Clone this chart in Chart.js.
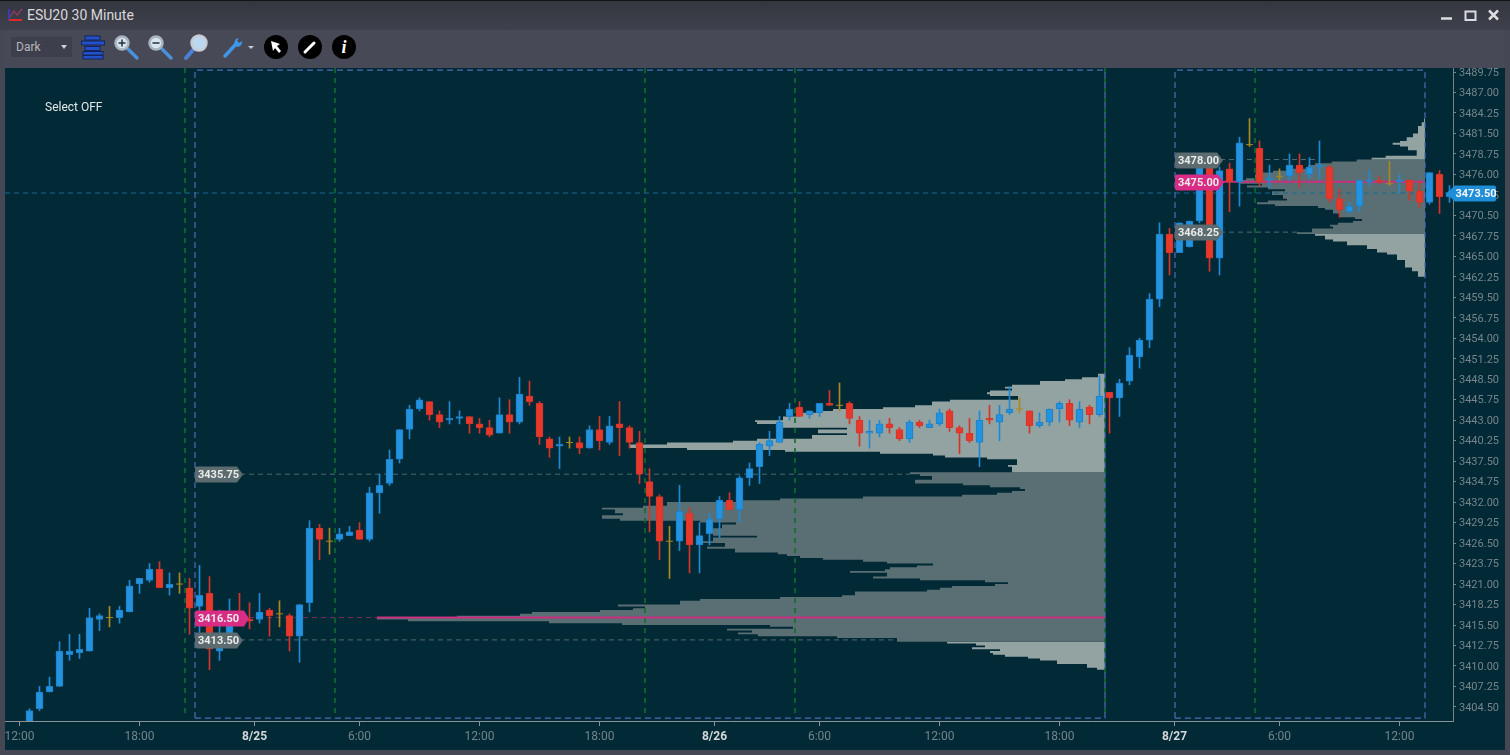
<!DOCTYPE html>
<html>
<head>
<meta charset="utf-8">
<title>ESU20 30 Minute</title>
<script src="https://cdn.jsdelivr.net/npm/chart.js@4/dist/chart.umd.min.js"></script>
<style>
  html, body { margin: 0; padding: 0; width: 1510px; height: 755px; overflow: hidden; background: #454755; font-family: Roboto, sans-serif; }
  #titlebar { position: absolute; left: 0; top: 0; width: 1510px; height: 30px; background: linear-gradient(#35373f, #3e404c); border-top: 1px solid #14151a; box-sizing: border-box; }
  #title { position: absolute; left: 27px; top: 6px; font-size: 14px; color: #d8d8dc; }
  #toolbar { position: absolute; left: 5px; top: 30px; width: 1500px; height: 38px; background: #474956; }
  #theme { position: absolute; left: 6px; top: 7px; width: 61px; height: 20px; background: #3d3f4c; color: #b4b6bb; font-size: 12px; line-height: 20px; text-indent: 5px; }
  #theme:after { content: ""; position: absolute; right: 5px; top: 8px; border: 3px solid transparent; border-top: 4px solid #d0d0d4; }
  #plot { position: absolute; left: 5px; top: 68px; width: 1500px; height: 682px; background: #012936; }
  #select { position: absolute; left: 45px; top: 100px; font-size: 12px; color: #e6e8e8; }
  svg { position: absolute; left: 0; top: 0; }
</style>
</head>
<body>
<div id="titlebar"><div id="title">ESU20 30 Minute</div></div>
<div id="toolbar"><div id="theme">Dark</div></div>
<canvas id="plot" width="1500" height="682"></canvas>
<div id="select">Select OFF</div>
<svg width="1510" height="68">
  <path d="M9 9v11h12" fill="none" stroke="#3a3fd0" stroke-width="1.5"/>
  <path d="M9 20h13" stroke="#e02828" stroke-width="2"/>
  <path d="M10 17l4-6 3 4 5-6" fill="none" stroke="#9a3a6a" stroke-width="1.2"/>
  <g fill="#2450c8" stroke="#10245e">
    <rect x="85" y="36" width="15" height="4"/><rect x="81.5" y="41" width="23" height="4"/>
    <rect x="85" y="46.5" width="15" height="4"/><rect x="83" y="51.5" width="20" height="3.5"/><rect x="83" y="55.5" width="20" height="3.5"/>
  </g>
  <g stroke-linecap="round">
    <path d="M128 49l9 9" stroke="#4a90d8" stroke-width="3.5"/>
    <circle cx="122" cy="43" r="6.5" fill="#d8e4f0" stroke="#a8b4c0" stroke-width="2.5"/>
    <path d="M119 43h6M122 40v6" stroke="#23303e" stroke-width="1.5"/>
    <path d="M162 49l9 9" stroke="#4a90d8" stroke-width="3.5"/>
    <circle cx="156" cy="43" r="6.5" fill="#d8e4f0" stroke="#a8b4c0" stroke-width="2.5"/>
    <path d="M153 43h6" stroke="#23303e" stroke-width="1.5"/>
    <path d="M186 58l7-8" stroke="#4a80d8" stroke-width="4"/>
    <circle cx="199" cy="43" r="7.5" fill="#bcd8f0" stroke="#c8ccd2" stroke-width="2.5"/>
    <path d="M225 56l12-13" stroke="#3f96e6" stroke-width="3.5"/>
    <path d="M236 39a5 5 0 0 0 1 8a5 5 0 0 0 5-6l-3 2l-2-2l2-3z" fill="#3f96e6"/>
  </g>
  <path d="M248 46h6l-3 3z" fill="#c8ccd2"/>
  <circle cx="276" cy="47" r="12" fill="#000"/>
  <path d="M271 41l9 3-3 2 4 5-2 2-4-5-2 3z" fill="#fff"/>
  <circle cx="310" cy="47" r="12" fill="#000"/>
  <path d="M305 52l9-9" stroke="#fff" stroke-width="3" stroke-linecap="round"/>
  <circle cx="344" cy="47" r="12" fill="#000"/>
  <text x="344" y="53" text-anchor="middle" font-family="Liberation Serif" font-style="italic" font-weight="bold" font-size="18" fill="#fff">i</text>
  <path d="M1441 18.5h11" stroke="#dcdce0" stroke-width="2.5"/>
  <rect x="1465.5" y="11.5" width="10" height="8.5" fill="none" stroke="#dcdce0" stroke-width="2"/>
  <path d="M1489 10.5l9 9M1498 10.5l-9 9" stroke="#dcdce0" stroke-width="2.5"/>
</svg>
<script>
// 30 minute bars, first one sits just past the 12:00 tick
const firstBar = 1;
const candleOpen = [
  3402.25,3404.25,3406.5,3407.25,3411.5,3411.75,3412,3416.25,3416.5,3416.5,
  3417.25,3421,3421.5,3423,3420.5,3421,3420.5,3418,3419.75,3412,
  3413.75,3417.25,3416.25,3416.25,3417.5,3417,3416.75,3414,3418.5,3428.5,
  3426.75,3427,3427.5,3428.25,3427,3433.25,3434.5,3437.75,3441.75,3444.5,
  3445.5,3443.75,3443,3443.25,3443.5,3442.5,3442,3441.25,3443.75,3442.75,
  3446.25,3445.25,3440.5,3439.5,3440,3440,3439.25,3441.75,3440,3442.5,
  3442,3440,3434.75,3432.75,3426.75,3426.75,3430.5,3426.25,3427.75,3429.75,
  3432.25,3431,3435.25,3436.75,3439.5,3440,3443.5,3444.75,3443.75,3444,
  3445.25,3445,3445.25,3443,3441.25,3441.25,3442.5,3441.75,3440.5,3442.75,
  3442,3442.5,3444.25,3442,3441.25,3440,3443.25,3442.75,3444,3444.5,
  3444.25,3442.25,3442.75,3444.5,3445.25,3442.75,3444.75,3443.75,3446.75,3446,
  3448.25,3451.5,3453.75,3459.25,3468,3465.5,3466.25,3469.75,3477,3464.75,
  3476.75,3475,3480,3479.5,3475.25,3475.75,3475.75,3477.25,3476,3477,
  3477,3472.75,3471,3471.75,3475,3475.25,3474.75,3475,3475.25,3473.75,
  3472.25,3476,3473
];
const candleHigh = [
  3404.25,3407.25,3408.5,3413.25,3414.25,3414.25,3417.75,3417,3418,3418,
  3421.5,3421.75,3423.75,3424,3422.5,3422.5,3421.75,3423.5,3422,3417.5,
  3419,3419.75,3418.5,3419.75,3417.75,3418.75,3417,3418.25,3429.5,3429,
  3428.5,3428.5,3428.75,3429.25,3434,3435.75,3439,3441.75,3445,3446,
  3445.5,3444.25,3445.5,3444.25,3443.5,3443.25,3443,3446,3445.75,3448.75,
  3448.25,3445.5,3440.75,3440.75,3440.75,3440.75,3442.25,3443.5,3443.5,3445.5,
  3442.25,3441.5,3436.5,3433,3428.75,3434.25,3431.25,3429.25,3430.5,3432.75,
  3433.25,3435.5,3437.25,3440,3441.5,3443.5,3445.25,3445.5,3444.25,3445.25,
  3447,3448,3445.5,3443.5,3443,3443,3443.25,3442,3443,3443,
  3443,3444.5,3444.5,3442.25,3443.25,3444.25,3445,3445,3447.5,3446,
  3444.25,3444,3444.5,3445.5,3445.75,3445.5,3445,3449,3446.75,3448.5,
  3452.75,3454,3460,3469.5,3468.75,3469.5,3469.75,3477.25,3478,3477,
  3477.5,3481,3483.5,3480.5,3477.25,3476.75,3478.75,3478.75,3478.25,3480.5,
  3477.25,3474,3472.25,3475.25,3476.5,3475.75,3477.75,3476,3475.25,3475,
  3476.25,3476.5,3474.5
];
const candleLow = [
  3402.25,3404,3406.5,3407.25,3410.75,3411,3412,3414.75,3415.25,3415.75,
  3417.25,3419.75,3421.25,3420.5,3419.5,3419.75,3414.25,3414.5,3409.5,3410.75,
  3413.5,3416,3415,3415.75,3414,3415.25,3412,3410.5,3417.25,3424.25,
  3425,3426.75,3427.5,3427,3426.75,3430.5,3434.25,3437.25,3440.5,3444.25,
  3443,3442,3442.5,3442.5,3441.25,3441.25,3440.75,3441.25,3441.25,3442.5,
  3445,3439.75,3438,3436.5,3439.25,3438.5,3439.25,3439,3439.75,3438.25,
  3439.25,3434.5,3428,3424.25,3421.75,3425.5,3422.5,3422.5,3426.25,3427.25,
  3431,3429.25,3434.25,3434.5,3438.25,3440,3443,3443.5,3443.25,3443.5,
  3445,3444.25,3442.5,3439.5,3439.25,3440.75,3441.25,3440.25,3440,3442,
  3442,3442.25,3441.5,3438.5,3440,3436.75,3442.5,3440.25,3443.75,3444,
  3441.25,3442,3442.25,3442.75,3442.25,3442,3442.5,3443.5,3441.25,3443.5,
  3447.75,3450,3452.75,3458.25,3462.5,3465.5,3466.25,3469.5,3463,3462.5,
  3471,3471.75,3479.75,3474.5,3474.25,3475.25,3475.25,3474.25,3475.5,3475.5,
  3472.25,3470.25,3470.75,3471,3474.5,3474.75,3474.5,3473.5,3472.5,3471.5,
  3472,3470.75,3472.25
];
const candleClose = [
  3404,3406.5,3407.25,3412,3412,3412.25,3416.5,3416.75,3416.5,3417.5,
  3420.75,3421.75,3423,3420.5,3421,3421,3417.75,3419.5,3412.25,3414,
  3417.25,3416.25,3416,3417.25,3416.75,3417,3414,3418.25,3428.5,3427,
  3426.75,3427.75,3428,3427,3433.25,3434.25,3437.75,3441.75,3444.5,3445.75,
  3443.75,3442.75,3443.25,3443.5,3442.5,3442,3441,3443.75,3442.75,3446.5,
  3445.5,3440.75,3439.25,3439.75,3440,3439.25,3441.75,3440.25,3442.25,3442,
  3440,3435.75,3432.75,3426.75,3426.75,3430.75,3426.25,3427.5,3429.75,3432.25,
  3431,3435.25,3436.5,3439.75,3440.25,3442.75,3444.5,3443.5,3444.25,3445.25,
  3445,3445,3443.25,3441.25,3441.5,3442.5,3442,3440.5,3442.75,3442.25,
  3442.5,3444,3442,3441.25,3440.25,3443,3443,3443.75,3444.5,3444.5,
  3442.25,3442.75,3444.5,3445.25,3443,3444.5,3443.75,3446.25,3446,3448,
  3451.75,3453.75,3459.25,3468,3465.5,3469.5,3469.75,3477.25,3464.75,3476.5,
  3475,3480.25,3480,3475,3475.5,3475.75,3477.25,3476.25,3477,3477.25,
  3472.75,3471.25,3471.75,3475.25,3475.25,3475,3474.75,3475.25,3473.75,3472.25,
  3476.25,3473,3473.5
];

// axis labels
const xTickValues = [0,12,23.5,34,46,58,69.5,80,92,104,115.5,126,138];
const xTickLabels = ['12:00','18:00','8/25','6:00','12:00','18:00','8/26','6:00','12:00','18:00','8/27','6:00','12:00'];
const yTickValues = [
  3489.75,3487,3484.25,3481.5,3478.75,3476,3473.25,3470.5,3467.75,3465,3462.25,
  3459.5,3456.75,3454,3451.25,3448.5,3445.75,3443,3440.25,3437.5,3434.75,3432,
  3429.25,3426.5,3423.75,3421,3418.25,3415.5,3412.75,3410,3407.25,3404.5
];

// session boxes and the pit open/close markers
const sessionStart = [17.55, 115.55];
const sessionEnd = [108.55, 140.55];
const dividers = [16.55, 31.55, 62.55, 77.55, 108.55, 123.55];

// profile levels per session: value area high, point of control, value area low
const vahLevels = [3435.75, 3478];
const pocLevels = [3416.5, 3475];
const valLevels = [3413.5, 3468.25];
const vahLineEnd = [89.05, 129.65];
const pocLineStart = [35.75, 120.35];
const valLineEnd = [87.75, 127.85];
const lastPrice = 3473.5;

// volume profile rows, price is the top of each row and the last price closes the shape
const p1UpperPrice = [3449.25,3448.75,3448.5,3448.25,3447.75,3447.5,3447.25,3447,3446.75,3446.5,3446.25,3445.75,3445.5,3445,3444.75,3444.5,3444.25,3444,3443.5,3443,3442.75,3442.5,3442,3441.75,3441.25,3441,3440.5,3440.25,3440,3439.75,3439.25,3439,3438.75,3438.5,3438.25,3438,3437.75,3437,3436.75,3436];
const p1UpperVol = [0.7,2.3,4,6.5,9.3,10,9.3,11.5,11.8,11.5,8.7,15.5,17.3,19,22.2,27.2,28.2,30.8,32.2,35,34.8,32.2,25.8,28.7,25.8,29.3,34.8,37.2,43.8,47.5,41.8,32,22.5,17.2,16,11.8,8.8,9.7,9.3];
const p1ValuePrice = [3436,3435.75,3435.5,3435,3434.5,3434.25,3434,3433.75,3433.5,3433.25,3433,3432.75,3432.5,3432.25,3432,3431.5,3431.25,3431,3430.5,3430.25,3429.75,3429.5,3429.25,3429,3428.5,3428,3427.5,3427.25,3426.75,3426.5,3426,3425.75,3425.25,3425,3424.75,3424.5,3424.25,3424,3423.75,3423.5,3423.25,3423,3422.75,3422.5,3422,3421.75,3421.5,3421.25,3421,3420.75,3420.5,3420.25,3420,3419.5,3419.25,3419,3418.75,3418.25,3418,3417.75,3417.5,3417.25,3417,3416.75,3416.5,3416.25,3416,3415.75,3415.5,3415.25,3415,3414.75,3414.5,3414.25,3414,3413.75,3413.25];
const p1ValueVol = [19.5,18.5,17.3,19,14.2,11.5,8.5,8,9.3,10.8,14.3,24.2,32.5,36.2,43.8,46.2,50.3,49,48.2,50.3,48.5,40.5,36.9,38.3,39.3,39.2,34.8,39.2,40.2,38,39.8,37,32.7,31.8,30.5,28.2,24.2,21.8,17.2,18.8,21.5,22,25.5,21.8,23.2,18.5,12,9.7,11,15.3,16.5,17.8,25,26.3,32.5,40.5,42.5,48.7,46,47.2,50.5,57.3,58.5,64.8,72.8,69.7,55.6,48.3,33.5,31.2,37.8,35.3,36.7,34.7,26.8,20.8];
const p1LowerPrice = [3413.25,3413,3412.75,3412.5,3412.25,3412,3411.75,3411.5,3411.25,3411,3410.75,3410.25,3409.75,3409.5];
const p1LowerVol = [15.8,12.9,12,13.3,10.5,11.5,11.2,10,7.7,6.5,4.8,1.8,0.8];

const p2UpperPrice = [3483.5,3483,3482.5,3481.5,3481,3480.5,3480.25,3480,3479.75,3479.25,3478.5,3478.25,3478];
const p2UpperVol = [0.1,0.33,0.7,1.2,1.83,2.5,3.23,2.5,1.7,0.83,3.93,5.33];
const p2ValuePrice = [3478,3477.75,3477.5,3477.25,3476.75,3476.5,3476.25,3476,3475.5,3475.25,3474.75,3474.5,3474.25,3474,3473.75,3473.25,3472.75,3472.5,3472.25,3472,3471.75,3471.5,3471.25,3470.75,3470.25,3470,3469.75,3469.5,3469.25,3469,3468.75,3468.25,3468];
const p2ValueVol = [6.83,9.33,11,11.7,13.7,15.2,16.5,17,17.9,18.5,16.3,17.8,15.7,14,15.3,14.2,13.8,15.7,16.8,15,10.7,10,9.2,8.5,7,6.3,7.2,8.7,9.5,9.2,11.3,12.8];
const p2LowerPrice = [3468,3467.75,3467.25,3467,3466.5,3466,3465.5,3465.25,3464.5,3463.5,3463,3462.25];
const p2LowerVol = [11,10,9.2,7.8,5.8,4.8,3.8,2.8,2,1.3,0.7];

const BLUE = '#2393e0', RED = '#e7392b', GOLD = '#a98a1f';
const LIGHT = '#93a3a1', DARK = '#5a6f74';
const PINK = '#d92c85', TAG_GRAY = '#5b6b6f';

const barX = i => firstBar + i;

// closed stepped outline of a profile, hanging left from the session end
function profileShape(prices, vols, anchor) {
  const pts = [{ x: anchor, y: prices[0] }];
  vols.forEach((v, i) => {
    pts.push({ x: anchor - v, y: prices[i] });
    pts.push({ x: anchor - v, y: prices[i + 1] });
  });
  pts.push({ x: anchor, y: prices[prices.length - 1] });
  return pts;
}

function shapeSet(prices, vols, anchor, color) {
  return { type: 'line', data: profileShape(prices, vols, anchor), backgroundColor: color, borderWidth: 0, pointRadius: 0, fill: 'shape', tension: 0, order: 8 };
}

function lineSet(points, color, width, dash, order) {
  return { type: 'line', data: points, borderColor: color, borderWidth: width, borderDash: dash, pointRadius: 0, fill: false, tension: 0, order: order };
}

function wickSet(color, test) {
  const data = [];
  candleOpen.forEach((o, i) => { if (test(o, candleClose[i])) data.push({ x: barX(i), y: [candleLow[i], candleHigh[i]] }); });
  return { type: 'bar', data, backgroundColor: color, barThickness: 1, grouped: false, order: 3 };
}

function bodySet(color, edge, test) {
  const data = [];
  candleOpen.forEach((o, i) => { if (test(o, candleClose[i])) data.push({ x: barX(i), y: [o, candleClose[i]] }); });
  return { type: 'bar', data, backgroundColor: color, borderColor: edge, borderWidth: 1, borderSkipped: false, borderRadius: 1, barThickness: 7, grouped: false, order: 2 };
}

const up = (o, c) => c > o, down = (o, c) => c < o, flat = (o, c) => c === o;

const datasets = [
  shapeSet(p1UpperPrice, p1UpperVol, sessionEnd[0], LIGHT),
  shapeSet(p1ValuePrice, p1ValueVol, sessionEnd[0], DARK),
  shapeSet(p1LowerPrice, p1LowerVol, sessionEnd[0], LIGHT),
  shapeSet(p2UpperPrice, p2UpperVol, sessionEnd[1], LIGHT),
  shapeSet(p2ValuePrice, p2ValueVol, sessionEnd[1], DARK),
  shapeSet(p2LowerPrice, p2LowerVol, sessionEnd[1], LIGHT),
];

dividers.forEach(x => datasets.push(lineSet([{ x, y: 3490.29 }, { x, y: 3403 }], '#0d6f28', 1.6, [5, 5], 6)));

sessionStart.forEach((s, i) => {
  const e = sessionEnd[i];
  datasets.push(lineSet([{ x: s, y: 3403 }, { x: s, y: 3490 }, { x: e, y: 3490 }, { x: e, y: 3403 }, { x: s, y: 3403 }], '#4d6db3', 1.2, [6, 4], 5));
  datasets.push(lineSet([{ x: s, y: vahLevels[i] }, { x: vahLineEnd[i], y: vahLevels[i] }], '#4f6a6f', 1, [5, 4], 5));
  datasets.push(lineSet([{ x: s, y: valLevels[i] }, { x: valLineEnd[i], y: valLevels[i] }], '#4f6a6f', 1, [5, 4], 5));
  datasets.push(lineSet([{ x: s, y: pocLevels[i] }, { x: pocLineStart[i], y: pocLevels[i] }], '#76305f', 1, [5, 4], 5));
  datasets.push(lineSet([{ x: pocLineStart[i], y: pocLevels[i] }, { x: e, y: pocLevels[i] }], '#c8307f', 2, [], 4));
});

datasets.push(lineSet([{ x: -1.45, y: lastPrice }, { x: 143.35, y: lastPrice }], '#146a95', 1, [5, 4], 5));

datasets.push(wickSet('#1f8ad4', up), wickSet('#d53528', down), wickSet(GOLD, flat));
datasets.push(bodySet(BLUE, '#1d80c6', up), bodySet(RED, '#d6352a', down));

const dojis = [];
candleOpen.forEach((o, i) => { if (flat(o, candleClose[i])) dojis.push({ x: barX(i), y: o }); });
datasets.push({ type: 'line', data: dojis, showLine: false, pointStyle: 'line', pointRadius: 3.5, pointBorderWidth: 1, pointBorderColor: GOLD, pointBackgroundColor: GOLD, order: 1 });

// price flags sitting on the session start line and on the right axis
const flagsPlugin = {
  id: 'flags',
  afterDraw(chart) {
    const { ctx, scales: { x, y }, chartArea } = chart;
    ctx.save();
    ctx.font = 'bold 11px Roboto';
    ctx.textBaseline = 'middle';

    const flag = (left, price, body, tip, color) => {
      const py = Math.round(y.getPixelForValue(price)) + 0.5;
      ctx.fillStyle = color;
      ctx.beginPath();
      ctx.moveTo(left + 2, py - 8);
      ctx.lineTo(left + body, py - 8);
      ctx.lineTo(left + tip, py);
      ctx.lineTo(left + body, py + 8);
      ctx.lineTo(left + 2, py + 8);
      ctx.quadraticCurveTo(left, py + 8, left, py + 6);
      ctx.lineTo(left, py - 6);
      ctx.quadraticCurveTo(left, py - 8, left + 2, py - 8);
      ctx.fill();
      ctx.fillStyle = '#e9ece8';
      ctx.textAlign = 'left';
      ctx.fillText(price.toFixed(2), left + 3, py + 0.5);
    };

    sessionStart.forEach((s, i) => {
      const left = x.getPixelForValue(s);
      flag(left, vahLevels[i], 42, 48, TAG_GRAY);
      flag(left, valLevels[i], 42, 48, TAG_GRAY);
      flag(left, pocLevels[i], i === 0 ? 49 : 43, i === 0 ? 54 : 49, PINK);
    });

    const py = Math.round(y.getPixelForValue(lastPrice)) + 0.5;
    const r = chartArea.right;
    ctx.fillStyle = '#1f8ed9';
    ctx.beginPath();
    ctx.moveTo(r - 7, py);
    ctx.lineTo(r + 2, py - 8);
    ctx.lineTo(r + 41, py - 8);
    ctx.quadraticCurveTo(r + 43, py - 8, r + 43, py - 6);
    ctx.lineTo(r + 43, py + 6);
    ctx.quadraticCurveTo(r + 43, py + 8, r + 41, py + 8);
    ctx.lineTo(r + 2, py + 8);
    ctx.closePath();
    ctx.fill();
    ctx.fillStyle = '#f2f6f8';
    ctx.textAlign = 'center';
    ctx.fillText(lastPrice.toFixed(2), r + 23, py + 0.5);
    ctx.restore();
  }
};

const isDateTick = ctx => ctx.tick && (xTickLabels[xTickValues.indexOf(ctx.tick.value)] || '').includes('/');

new Chart(document.getElementById('plot'), {
  type: 'bar',
  data: { datasets },
  plugins: [flagsPlugin],
  options: {
    responsive: false,
    animation: false,
    layout: { padding: 0, autoPadding: false },
    plugins: { legend: { display: false }, tooltip: { enabled: false } },
    scales: {
      x: {
        type: 'linear',
        offset: false,
        min: -1.45,
        max: 143.35,
        grid: { drawOnChartArea: false, offset: false, color: '#8a9497', tickLength: 5 },
        border: { color: '#8a9497' },
        afterBuildTicks(scale) { scale.ticks = xTickValues.map(value => ({ value })); },
        afterFit(scale) { scale.height = 29; scale.paddingLeft = 0; scale.paddingRight = 0; },
        ticks: {
          autoSkip: false,
          maxRotation: 0,
          padding: 4,
          callback: v => xTickLabels[xTickValues.indexOf(v)],
          color: ctx => isDateTick(ctx) ? '#d4d8d8' : '#75848a',
          font: ctx => ({ family: 'Roboto', size: 12, weight: isDateTick(ctx) ? 'bold' : 'normal' })
        }
      },
      y: {
        position: 'right',
        min: 3402.61,
        max: 3490.29,
        beginAtZero: false,
        grid: { drawOnChartArea: false, color: '#75848a', tickLength: 3 },
        border: { color: '#75848a' },
        afterBuildTicks(scale) { scale.ticks = yTickValues.map(value => ({ value })); },
        afterFit(scale) { scale.width = 52; scale.paddingTop = 0; scale.paddingBottom = 0; },
        ticks: {
          autoSkip: false,
          padding: 3,
          labelOffset: 1,
          color: '#75848a',
          font: { family: 'Roboto', size: 11 },
          callback: v => v.toFixed(2)
        }
      }
    }
  }
});
</script>
</body>
</html>
